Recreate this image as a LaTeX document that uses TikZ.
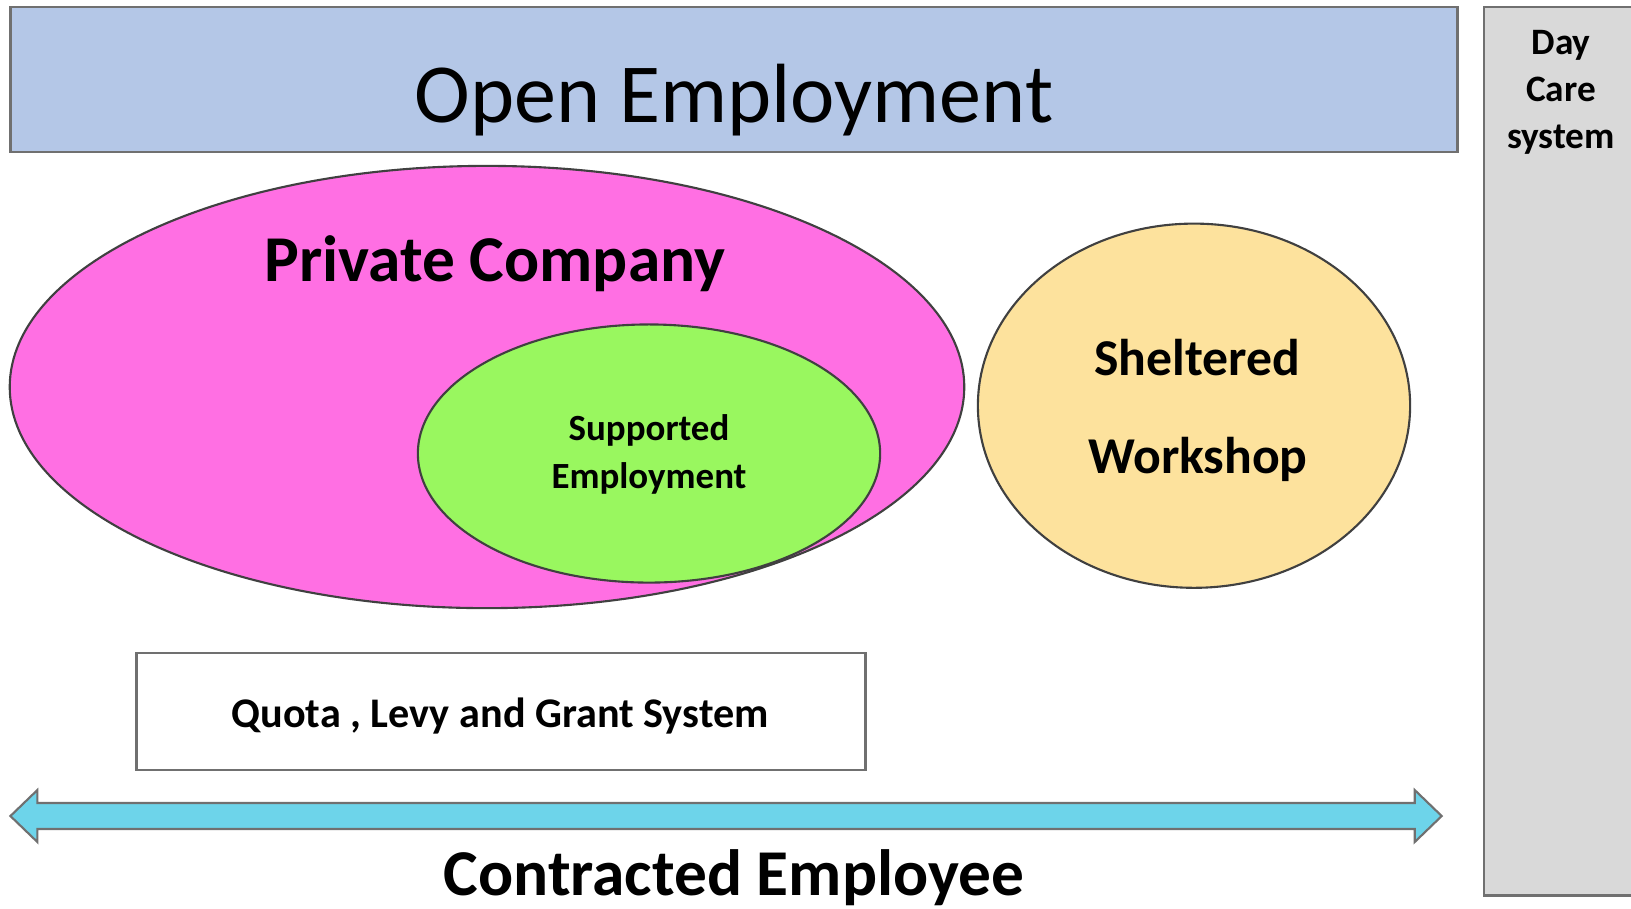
\documentclass[tikz,border=0pt]{standalone}
\usepackage{fontspec}
\setmainfont{Carlito}
\usetikzlibrary{shapes.geometric}
\definecolor{boxblue}{HTML}{B4C7E7}
\definecolor{pinkfill}{HTML}{FF6FE3}
\definecolor{greenfill}{HTML}{99F75F}
\definecolor{yellowfill}{HTML}{FDE29D}
\definecolor{grayfill}{HTML}{D9D9D9}
\definecolor{arrowfill}{HTML}{6DD4EA}
\definecolor{edge}{HTML}{404040}
\definecolor{softedge}{HTML}{707070}
\begin{document}
\begin{tikzpicture}[x=0.01cm,y=-0.01cm,
  panel/.style={draw=softedge, line width=0.7pt, inner sep=0pt},
  oval/.style={ellipse, draw=edge, line width=0.6pt, inner sep=0pt},
  label/.style={inner sep=0pt, anchor=base, text=black}]
\useasboundingbox (0,0) rectangle (1631,908);
\fill[white] (0,0) rectangle (1631,908);

% Day care panel (runs off the right edge)
\node[panel, fill=grayfill, minimum width=1.60cm, minimum height=8.88cm] (daycare) at (1564,451) {};
\node[label, font=\bfseries\fontsize{10.6}{12.5}\selectfont] (dayt1) at (1561,54) {Day};
\node[label, font=\bfseries\fontsize{10.6}{12.5}\selectfont] (dayt2) at (1561,101) {Care};
\node[label, font=\bfseries\fontsize{10.6}{12.5}\selectfont] (dayt3) at (1561,148) {system};

% Open employment banner
\node[panel, fill=boxblue, minimum width=14.46cm, minimum height=1.45cm] (open) at (734,79.5) {};
\node[label, font=\fontsize{23.9}{28}\selectfont] (opent) at (734,122.7) {Open Employment};

% Private company
\node[oval, fill=pinkfill, minimum width=9.54cm, minimum height=4.42cm] (private) at (487,387) {};
\node[label, font=\bfseries\fontsize{18.6}{22}\selectfont] (privatet) at (495,281) {Private Company};

% Supported employment
\node[oval, fill=greenfill, minimum width=4.62cm, minimum height=2.58cm] (supported) at (649,453.5) {};
\node[label, font=\bfseries\fontsize{10.5}{12.5}\selectfont] (supt1) at (649,440) {Supported};
\node[label, font=\bfseries\fontsize{10.5}{12.5}\selectfont] (supt2) at (649,488) {Employment};

% Sheltered workshop
\node[oval, fill=yellowfill, minimum width=4.32cm, minimum height=3.64cm] (sheltered) at (1194,405.7) {};
\node[label, font=\bfseries\fontsize{14.7}{17}\selectfont] (shelt1) at (1197,375.5) {Sheltered};
\node[label, font=\bfseries\fontsize{14.7}{17}\selectfont] (shelt2) at (1198,473) {Workshop};

% Quota box
\node[panel, fill=white, minimum width=7.285cm, minimum height=1.17cm] (quota) at (501,711.5) {};
\node[label, font=\bfseries\fontsize{12}{14}\selectfont] (quotat) at (500,727) {Quota , Levy and Grant System};

% Double arrow
\filldraw[fill=arrowfill, draw=softedge, line width=0.6pt, line join=miter]
  (10.4,816) -- (37.4,790) -- (37.4,803) -- (1414.7,803) -- (1414.7,790) -- (1441.7,816)
  -- (1414.7,842) -- (1414.7,829) -- (37.4,829) -- (37.4,842) -- cycle;
\node[label, font=\bfseries\fontsize{18.6}{22}\selectfont] (contracted) at (734,895.6) {Contracted Employee};
\end{tikzpicture}
\end{document}
